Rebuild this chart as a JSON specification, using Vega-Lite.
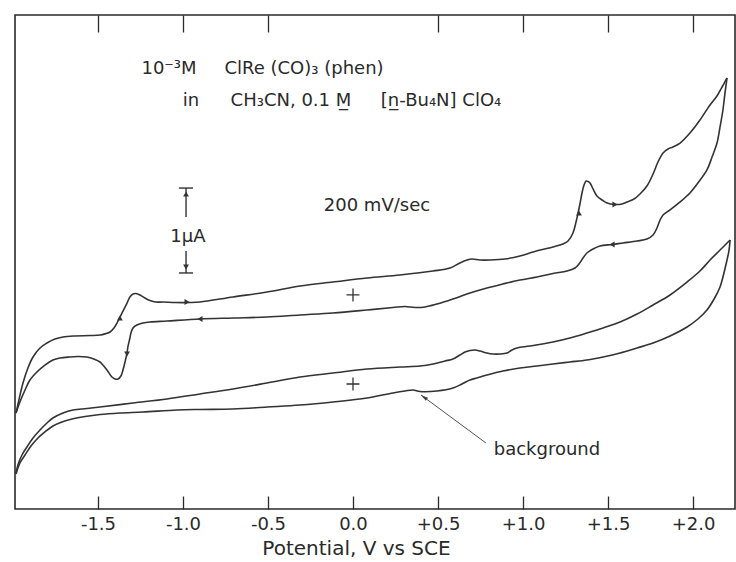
{
  "$schema": "https://vega.github.io/schema/vega-lite/v6.json",
  "width": 720,
  "height": 494,
  "autosize": "none",
  "padding": {"left": 15, "top": 15, "right": 1, "bottom": 53},
  "background": "white",
  "config": {
    "view": {"stroke": "#2a2a2a", "strokeWidth": 1.6},
    "font": "DejaVu Sans",
    "axis": {"domain": false, "grid": false}
  },
  "datasets": {
    "cv": [
      {"b":"sf","o":1,"x":-1.982,"y":1.143},{"b":"sf","o":2,"x":-1.965,"y":1.298},{"b":"sf","o":3,"x":-1.941,"y":1.5},{"b":"sf","o":4,"x":-1.912,"y":1.679},{"b":"sf","o":5,"x":-1.882,"y":1.81},{"b":"sf","o":6,"x":-1.841,"y":1.917},{"b":"sf","o":7,"x":-1.8,"y":1.976},{"b":"sf","o":8,"x":-1.753,"y":2.024},{"b":"sf","o":9,"x":-1.706,"y":2.048},{"b":"sf","o":10,"x":-1.635,"y":2.06},
      {"b":"sf","o":11,"x":-1.547,"y":2.065},{"b":"sf","o":12,"x":-1.488,"y":2.071},{"b":"sf","o":13,"x":-1.453,"y":2.089},{"b":"sf","o":14,"x":-1.429,"y":2.107},{"b":"sf","o":15,"x":-1.406,"y":2.155},{"b":"sf","o":16,"x":-1.388,"y":2.214},{"b":"sf","o":17,"x":-1.359,"y":2.333},{"b":"sf","o":18,"x":-1.329,"y":2.452},{"b":"sf","o":19,"x":-1.312,"y":2.524},{"b":"sf","o":20,"x":-1.294,"y":2.56},
      {"b":"sf","o":21,"x":-1.276,"y":2.565},{"b":"sf","o":22,"x":-1.253,"y":2.548},{"b":"sf","o":23,"x":-1.224,"y":2.512},{"b":"sf","o":24,"x":-1.194,"y":2.482},{"b":"sf","o":25,"x":-1.159,"y":2.464},{"b":"sf","o":26,"x":-1.118,"y":2.464},{"b":"sf","o":27,"x":-1.047,"y":2.458},{"b":"sf","o":28,"x":-0.959,"y":2.458},{"b":"sf","o":29,"x":-0.9,"y":2.464},{"b":"sf","o":30,"x":-0.706,"y":2.524},
      {"b":"sf","o":31,"x":-0.506,"y":2.583},{"b":"sf","o":32,"x":-0.312,"y":2.655},{"b":"sf","o":33,"x":-0.118,"y":2.702},{"b":"sf","o":34,"x":0.082,"y":2.75},{"b":"sf","o":35,"x":0.276,"y":2.786},{"b":"sf","o":36,"x":0.471,"y":2.833},{"b":"sf","o":37,"x":0.571,"y":2.869},{"b":"sf","o":38,"x":0.629,"y":2.929},{"b":"sf","o":39,"x":0.671,"y":2.964},{"b":"sf","o":40,"x":0.7,"y":2.976},
      {"b":"sf","o":41,"x":0.747,"y":2.964},{"b":"sf","o":42,"x":0.806,"y":2.964},{"b":"sf","o":43,"x":0.894,"y":2.976},{"b":"sf","o":44,"x":0.982,"y":3.012},{"b":"sf","o":45,"x":1.059,"y":3.06},{"b":"sf","o":46,"x":1.176,"y":3.119},{"b":"sf","o":47,"x":1.235,"y":3.155},{"b":"sf","o":48,"x":1.265,"y":3.19},{"b":"sf","o":49,"x":1.294,"y":3.286},{"b":"sf","o":50,"x":1.312,"y":3.417},
      {"b":"sf","o":51,"x":1.324,"y":3.524},{"b":"sf","o":52,"x":1.335,"y":3.631},{"b":"sf","o":53,"x":1.347,"y":3.762},{"b":"sf","o":54,"x":1.359,"y":3.857},{"b":"sf","o":55,"x":1.371,"y":3.905},{"b":"sf","o":56,"x":1.382,"y":3.899},{"b":"sf","o":57,"x":1.394,"y":3.881},{"b":"sf","o":58,"x":1.412,"y":3.81},{"b":"sf","o":59,"x":1.435,"y":3.726},{"b":"sf","o":60,"x":1.465,"y":3.679},
      {"b":"sf","o":61,"x":1.494,"y":3.643},{"b":"sf","o":62,"x":1.541,"y":3.625},{"b":"sf","o":63,"x":1.582,"y":3.631},{"b":"sf","o":64,"x":1.612,"y":3.655},{"b":"sf","o":65,"x":1.653,"y":3.69},{"b":"sf","o":66,"x":1.688,"y":3.75},{"b":"sf","o":67,"x":1.729,"y":3.845},{"b":"sf","o":68,"x":1.765,"y":3.988},{"b":"sf","o":69,"x":1.794,"y":4.131},{"b":"sf","o":70,"x":1.824,"y":4.238},
      {"b":"sf","o":71,"x":1.853,"y":4.286},{"b":"sf","o":72,"x":1.882,"y":4.31},{"b":"sf","o":73,"x":1.924,"y":4.357},{"b":"sf","o":74,"x":1.982,"y":4.476},{"b":"sf","o":75,"x":2.041,"y":4.631},{"b":"sf","o":76,"x":2.1,"y":4.81},{"b":"sf","o":77,"x":2.141,"y":4.917},{"b":"sf","o":78,"x":2.171,"y":5.024},{"b":"sf","o":79,"x":2.2,"y":5.131},

      {"b":"sr","o":1,"x":2.2,"y":5.131},{"b":"sr","o":2,"x":2.188,"y":4.952},{"b":"sr","o":3,"x":2.176,"y":4.75},{"b":"sr","o":4,"x":2.159,"y":4.548},{"b":"sr","o":5,"x":2.141,"y":4.357},{"b":"sr","o":6,"x":2.112,"y":4.19},{"b":"sr","o":7,"x":2.082,"y":4.036},{"b":"sr","o":8,"x":2.029,"y":3.881},{"b":"sr","o":9,"x":1.982,"y":3.762},{"b":"sr","o":10,"x":1.924,"y":3.655},
      {"b":"sr","o":11,"x":1.865,"y":3.56},{"b":"sr","o":12,"x":1.824,"y":3.5},{"b":"sr","o":13,"x":1.806,"y":3.44},{"b":"sr","o":14,"x":1.788,"y":3.345},{"b":"sr","o":15,"x":1.765,"y":3.262},{"b":"sr","o":16,"x":1.729,"y":3.214},{"b":"sr","o":17,"x":1.671,"y":3.19},{"b":"sr","o":18,"x":1.588,"y":3.167},{"b":"sr","o":19,"x":1.524,"y":3.149},{"b":"sr","o":20,"x":1.453,"y":3.131},
      {"b":"sr","o":21,"x":1.412,"y":3.095},{"b":"sr","o":22,"x":1.376,"y":3.048},{"b":"sr","o":23,"x":1.353,"y":2.988},{"b":"sr","o":24,"x":1.329,"y":2.917},{"b":"sr","o":25,"x":1.306,"y":2.869},{"b":"sr","o":26,"x":1.259,"y":2.833},{"b":"sr","o":27,"x":1.176,"y":2.804},{"b":"sr","o":28,"x":1.082,"y":2.762},{"b":"sr","o":29,"x":0.982,"y":2.726},{"b":"sr","o":30,"x":0.882,"y":2.679},
      {"b":"sr","o":31,"x":0.788,"y":2.631},{"b":"sr","o":32,"x":0.688,"y":2.571},{"b":"sr","o":33,"x":0.588,"y":2.5},{"b":"sr","o":34,"x":0.494,"y":2.44},{"b":"sr","o":35,"x":0.424,"y":2.405},{"b":"sr","o":36,"x":0.365,"y":2.399},{"b":"sr","o":37,"x":0.306,"y":2.411},{"b":"sr","o":38,"x":0.235,"y":2.399},{"b":"sr","o":39,"x":0.082,"y":2.369},{"b":"sr","o":40,"x":-0.118,"y":2.333},
      {"b":"sr","o":41,"x":-0.312,"y":2.31},{"b":"sr","o":42,"x":-0.506,"y":2.286},{"b":"sr","o":43,"x":-0.706,"y":2.274},{"b":"sr","o":44,"x":-0.9,"y":2.262},{"b":"sr","o":45,"x":-1.094,"y":2.238},{"b":"sr","o":46,"x":-1.194,"y":2.226},{"b":"sr","o":47,"x":-1.235,"y":2.214},{"b":"sr","o":48,"x":-1.271,"y":2.19},{"b":"sr","o":49,"x":-1.294,"y":2.155},{"b":"sr","o":50,"x":-1.306,"y":2.095},
      {"b":"sr","o":51,"x":-1.312,"y":2.036},{"b":"sr","o":52,"x":-1.324,"y":1.929},{"b":"sr","o":53,"x":-1.329,"y":1.857},{"b":"sr","o":54,"x":-1.341,"y":1.75},{"b":"sr","o":55,"x":-1.353,"y":1.655},{"b":"sr","o":56,"x":-1.365,"y":1.583},{"b":"sr","o":57,"x":-1.382,"y":1.548},{"b":"sr","o":58,"x":-1.4,"y":1.548},{"b":"sr","o":59,"x":-1.418,"y":1.571},{"b":"sr","o":60,"x":-1.447,"y":1.655},
      {"b":"sr","o":61,"x":-1.471,"y":1.714},{"b":"sr","o":62,"x":-1.488,"y":1.75},{"b":"sr","o":63,"x":-1.524,"y":1.786},{"b":"sr","o":64,"x":-1.565,"y":1.81},{"b":"sr","o":65,"x":-1.618,"y":1.815},{"b":"sr","o":66,"x":-1.665,"y":1.81},{"b":"sr","o":67,"x":-1.724,"y":1.798},{"b":"sr","o":68,"x":-1.765,"y":1.774},{"b":"sr","o":69,"x":-1.812,"y":1.714},{"b":"sr","o":70,"x":-1.859,"y":1.631},
      {"b":"sr","o":71,"x":-1.9,"y":1.536},{"b":"sr","o":72,"x":-1.929,"y":1.417},{"b":"sr","o":73,"x":-1.959,"y":1.274},{"b":"sr","o":74,"x":-1.982,"y":1.143},

      {"b":"bf","o":1,"x":-1.982,"y":0.417},{"b":"bf","o":2,"x":-1.971,"y":0.524},{"b":"bf","o":3,"x":-1.947,"y":0.643},{"b":"bf","o":4,"x":-1.918,"y":0.738},{"b":"bf","o":5,"x":-1.882,"y":0.845},{"b":"bf","o":6,"x":-1.841,"y":0.94},{"b":"bf","o":7,"x":-1.8,"y":1.024},{"b":"bf","o":8,"x":-1.765,"y":1.083},{"b":"bf","o":9,"x":-1.706,"y":1.143},{"b":"bf","o":10,"x":-1.647,"y":1.179},
      {"b":"bf","o":11,"x":-1.565,"y":1.196},{"b":"bf","o":12,"x":-1.488,"y":1.214},{"b":"bf","o":13,"x":-1.294,"y":1.262},{"b":"bf","o":14,"x":-1.094,"y":1.31},{"b":"bf","o":15,"x":-0.9,"y":1.369},{"b":"bf","o":16,"x":-0.706,"y":1.429},{"b":"bf","o":17,"x":-0.506,"y":1.5},{"b":"bf","o":18,"x":-0.312,"y":1.571},{"b":"bf","o":19,"x":-0.118,"y":1.619},{"b":"bf","o":20,"x":0.082,"y":1.667},
      {"b":"bf","o":21,"x":0.276,"y":1.69},{"b":"bf","o":22,"x":0.394,"y":1.702},{"b":"bf","o":23,"x":0.471,"y":1.726},{"b":"bf","o":24,"x":0.541,"y":1.762},{"b":"bf","o":25,"x":0.588,"y":1.786},{"b":"bf","o":26,"x":0.629,"y":1.833},{"b":"bf","o":27,"x":0.659,"y":1.869},{"b":"bf","o":28,"x":0.688,"y":1.887},{"b":"bf","o":29,"x":0.718,"y":1.893},{"b":"bf","o":30,"x":0.747,"y":1.881},
      {"b":"bf","o":31,"x":0.788,"y":1.857},{"b":"bf","o":32,"x":0.824,"y":1.845},{"b":"bf","o":33,"x":0.865,"y":1.845},{"b":"bf","o":34,"x":0.906,"y":1.857},{"b":"bf","o":35,"x":0.935,"y":1.893},{"b":"bf","o":36,"x":0.965,"y":1.917},{"b":"bf","o":37,"x":1.041,"y":1.94},{"b":"bf","o":38,"x":1.176,"y":1.988},{"b":"bf","o":39,"x":1.276,"y":2.036},{"b":"bf","o":40,"x":1.376,"y":2.095},
      {"b":"bf","o":41,"x":1.471,"y":2.155},{"b":"bf","o":42,"x":1.571,"y":2.226},{"b":"bf","o":43,"x":1.671,"y":2.321},{"b":"bf","o":44,"x":1.765,"y":2.429},{"b":"bf","o":45,"x":1.865,"y":2.548},{"b":"bf","o":46,"x":1.965,"y":2.702},{"b":"bf","o":47,"x":2.041,"y":2.833},{"b":"bf","o":48,"x":2.1,"y":2.964},{"b":"bf","o":49,"x":2.159,"y":3.083},{"b":"bf","o":50,"x":2.218,"y":3.202},

      {"b":"br","o":1,"x":2.218,"y":3.202},{"b":"br","o":2,"x":2.212,"y":3.083},{"b":"br","o":3,"x":2.2,"y":2.964},{"b":"br","o":4,"x":2.182,"y":2.81},{"b":"br","o":5,"x":2.159,"y":2.643},{"b":"br","o":6,"x":2.124,"y":2.5},{"b":"br","o":7,"x":2.082,"y":2.369},{"b":"br","o":8,"x":2.029,"y":2.262},{"b":"br","o":9,"x":1.965,"y":2.167},{"b":"br","o":10,"x":1.865,"y":2.06},
      {"b":"br","o":11,"x":1.765,"y":1.976},{"b":"br","o":12,"x":1.671,"y":1.917},{"b":"br","o":13,"x":1.571,"y":1.857},{"b":"br","o":14,"x":1.471,"y":1.81},{"b":"br","o":15,"x":1.376,"y":1.774},{"b":"br","o":16,"x":1.276,"y":1.75},{"b":"br","o":17,"x":1.176,"y":1.726},{"b":"br","o":18,"x":1.082,"y":1.702},{"b":"br","o":19,"x":0.982,"y":1.679},{"b":"br","o":20,"x":0.882,"y":1.643},
      {"b":"br","o":21,"x":0.788,"y":1.595},{"b":"br","o":22,"x":0.729,"y":1.56},{"b":"br","o":23,"x":0.688,"y":1.536},{"b":"br","o":24,"x":0.641,"y":1.488},{"b":"br","o":25,"x":0.588,"y":1.44},{"b":"br","o":26,"x":0.494,"y":1.405},{"b":"br","o":27,"x":0.394,"y":1.399},{"b":"br","o":28,"x":0.353,"y":1.417},{"b":"br","o":29,"x":0.306,"y":1.405},{"b":"br","o":30,"x":0.235,"y":1.381},
      {"b":"br","o":31,"x":0.082,"y":1.321},{"b":"br","o":32,"x":-0.118,"y":1.274},{"b":"br","o":33,"x":-0.312,"y":1.238},{"b":"br","o":34,"x":-0.506,"y":1.214},{"b":"br","o":35,"x":-0.706,"y":1.19},{"b":"br","o":36,"x":-0.9,"y":1.185},{"b":"br","o":37,"x":-1.035,"y":1.179},{"b":"br","o":38,"x":-1.235,"y":1.155},{"b":"br","o":39,"x":-1.371,"y":1.143},{"b":"br","o":40,"x":-1.488,"y":1.125},
      {"b":"br","o":41,"x":-1.576,"y":1.101},{"b":"br","o":42,"x":-1.653,"y":1.071},{"b":"br","o":43,"x":-1.712,"y":1.036},{"b":"br","o":44,"x":-1.765,"y":0.988},{"b":"br","o":45,"x":-1.812,"y":0.917},{"b":"br","o":46,"x":-1.853,"y":0.845},{"b":"br","o":47,"x":-1.894,"y":0.75},{"b":"br","o":48,"x":-1.929,"y":0.643},{"b":"br","o":49,"x":-1.959,"y":0.548},{"b":"br","o":50,"x":-1.982,"y":0.417}
    ],
    "arrows": [
      {"x":-1.371,"y":2.274,"dir":"up"},
      {"x":-0.976,"y":2.464,"dir":"right"},
      {"x":-0.9,"y":2.262,"dir":"left"},
      {"x":-1.329,"y":1.845,"dir":"down"},
      {"x":1.329,"y":3.524,"dir":"up"},
      {"x":1.541,"y":3.625,"dir":"right"},
      {"x":1.524,"y":3.149,"dir":"left"},
      {"x":-0.982,"y":3.75,"dir":"up"},
      {"x":-0.982,"y":2.881,"dir":"down"}
    ],
    "crosses": [
      {"x":0.0,"y":2.548},
      {"x":0.0,"y":1.488}
    ],
    "barsegs": [
      {"x":-0.982,"y":3.821,"y2":3.476},
      {"x":-0.982,"y":3.071,"y2":2.81}
    ],
    "barcaps": [
      {"x":-1.024,"x2":-0.941,"y":3.821},
      {"x":-1.024,"x2":-0.941,"y":2.81}
    ],
    "pointer": [
      {"x":0.782,"y":0.786,"x2":0.4,"y2":1.357}
    ],
    "pointerhead": [
      {"x":0.419,"y":1.329}
    ],
    "labels": [
      {"x":-1.082,"y":5.238,"t":"10⁻³M"},
      {"x":-0.288,"y":5.238,"t":"ClRe (CO)₃ (phen)"},
      {"x":-0.953,"y":4.857,"t":"in"},
      {"x":-0.365,"y":4.857,"t":"CH₃CN, 0.1 M̲"},
      {"x":0.518,"y":4.857,"t":"[n̲-Bu₄N] ClO₄"},
      {"x":0.141,"y":3.607,"t":"200 mV/sec"},
      {"x":-0.971,"y":3.238,"t":"1μA"},
      {"x":1.141,"y":0.702,"t":"background"}
    ]
  },
  "resolve": {"axis": {"x": "independent"}},
  "layer": [
    {
      "data": {"name": "cv"},
      "mark": {"type": "line", "interpolate": "catmull-rom", "stroke": "#333333", "strokeWidth": 1.6},
      "encoding": {
        "x": {
          "field": "x", "type": "quantitative",
          "scale": {"domain": [-1.988, 2.247], "nice": false, "zero": false},
          "axis": {
            "orient": "bottom",
            "values": [-1.5, -1, -0.5, 0, 0.5, 1, 1.5, 2],
            "tickSize": -13, "tickColor": "#2a2a2a", "tickWidth": 1.3,
            "labelFontSize": 18, "labelColor": "#2a2a2a", "labelPadding": 19, "labelFlush": false,
            "labelFont": "DejaVu Sans",
            "labelExpr": "datum.value > 0 ? '+' + format(datum.value, '.1f') : (datum.value < 0 ? '-' + format(-datum.value, '.1f') : '0.0')",
            "title": "Potential, V vs SCE",
            "titleFont": "DejaVu Sans", "titleFontSize": 20, "titleFontWeight": "normal", "titleColor": "#2a2a2a",
            "titlePadding": 5, "titleX": 341,
            "domain": false, "grid": false
          }
        },
        "y": {"field": "y", "type": "quantitative", "scale": {"domain": [0, 5.881], "nice": false, "zero": false}, "axis": null},
        "detail": {"field": "b", "type": "nominal"},
        "order": {"field": "o", "type": "quantitative"}
      }
    },
    {
      "data": {"name": "arrows"},
      "mark": {"type": "point", "filled": true, "color": "#333333", "size": 34, "opacity": 1},
      "encoding": {
        "x": {
          "field": "x", "type": "quantitative",
          "axis": {
            "orient": "top",
            "values": [-1.5, -1, -0.5, 0.5, 1, 1.5, 2],
            "tickSize": -17, "tickColor": "#2a2a2a", "tickWidth": 1.3,
            "labels": false, "title": null, "domain": false, "grid": false
          }
        },
        "y": {"field": "y", "type": "quantitative", "axis": null},
        "shape": {
          "field": "dir", "type": "nominal",
          "scale": {"domain": ["up", "down", "left", "right"], "range": ["triangle-up", "triangle-down", "triangle-left", "triangle-right"]},
          "legend": null
        }
      }
    },
    {
      "data": {"name": "crosses"},
      "mark": {"type": "point", "shape": "M-1,0L1,0M0,-1L0,1", "filled": false, "stroke": "#333333", "strokeWidth": 1.3, "size": 169, "opacity": 1},
      "encoding": {
        "x": {"field": "x", "type": "quantitative", "axis": null},
        "y": {"field": "y", "type": "quantitative", "axis": null}
      }
    },
    {
      "data": {"name": "barsegs"},
      "mark": {"type": "rule", "stroke": "#333333", "strokeWidth": 1.4},
      "encoding": {
        "x": {"field": "x", "type": "quantitative", "axis": null},
        "y": {"field": "y", "type": "quantitative", "axis": null},
        "y2": {"field": "y2"}
      }
    },
    {
      "data": {"name": "barcaps"},
      "mark": {"type": "rule", "stroke": "#333333", "strokeWidth": 1.4},
      "encoding": {
        "x": {"field": "x", "type": "quantitative", "axis": null},
        "x2": {"field": "x2"},
        "y": {"field": "y", "type": "quantitative", "axis": null}
      }
    },
    {
      "data": {"name": "pointer"},
      "mark": {"type": "rule", "stroke": "#555555", "strokeWidth": 1},
      "encoding": {
        "x": {"field": "x", "type": "quantitative", "axis": null},
        "x2": {"field": "x2"},
        "y": {"field": "y", "type": "quantitative", "axis": null},
        "y2": {"field": "y2"}
      }
    },
    {
      "data": {"name": "pointerhead"},
      "mark": {"type": "point", "shape": "M0,-1L0.45,0.8L-0.45,0.8Z", "filled": true, "color": "#444444", "size": 70, "angle": 306, "opacity": 1},
      "encoding": {
        "x": {"field": "x", "type": "quantitative", "axis": null},
        "y": {"field": "y", "type": "quantitative", "axis": null}
      }
    },
    {
      "data": {"name": "labels"},
      "mark": {"type": "text", "font": "DejaVu Sans", "fontSize": 18, "color": "#2a2a2a", "align": "center", "baseline": "middle"},
      "encoding": {
        "x": {"field": "x", "type": "quantitative", "axis": null},
        "y": {"field": "y", "type": "quantitative", "axis": null},
        "text": {"field": "t", "type": "nominal"}
      }
    }
  ]
}
